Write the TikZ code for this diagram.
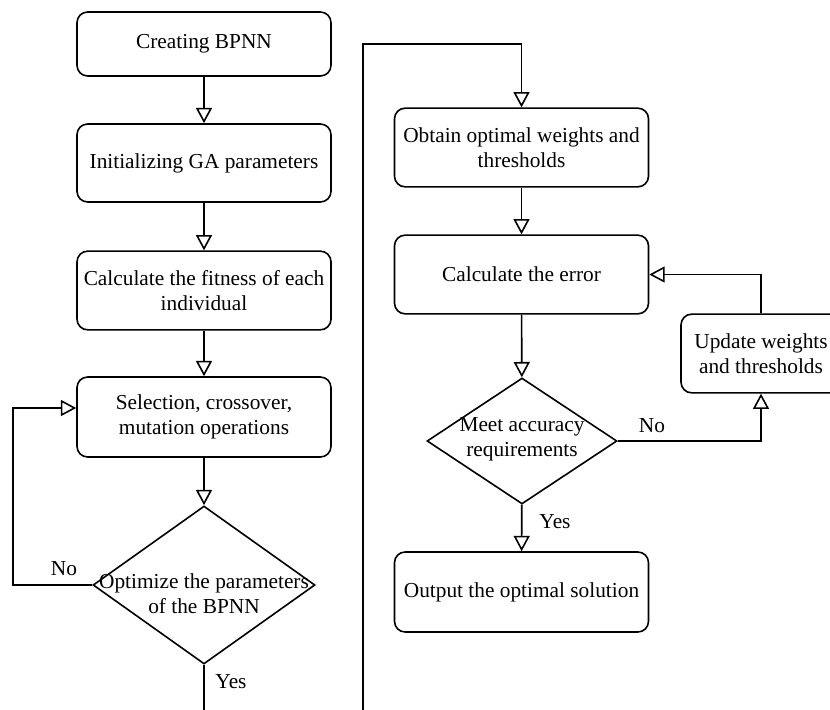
\documentclass[tikz,border=0pt]{standalone}
\usepackage{fontspec}
\setmainfont{Liberation Serif}
\usetikzlibrary{arrows.meta,shapes.geometric}
\begin{document}
\begin{tikzpicture}[x=0.75pt,y=-0.75pt,
  every node/.style={font=\fontsize{16}{18.5}\selectfont},
  box/.style={draw,line width=1.2pt,rounded corners=8pt,minimum width=190.5pt,
    minimum height=59pt,align=center,inner sep=0pt},
  dia/.style={draw,line width=1.2pt,diamond,inner sep=0pt},
  txt/.style={align=center,inner sep=0pt},
  arr/.style={line width=1.2pt,-{Triangle[open,length=11.5pt,width=12pt]}},
  conn/.style={line width=1.2pt}]
\useasboundingbox (0,0) rectangle (830,709);
\clip (0,0) rectangle (830,709);
% left column
\node[box,minimum height=48pt] (c1) at (204,44) {Creating BPNN};
\node[box,minimum height=58.5pt] (c2) at (204,163) {Initializing GA parameters};
\node[box] (c3) at (204,290.5) {Calculate the fitness of each\\individual};
\node[box,minimum height=60pt] (c4) at (204,417) {Selection, crossover,\\mutation operations};
\node[dia,minimum width=166.5pt,minimum height=118.5pt] (d1) at (204,585) {};
\node[txt] (d1t) at (204,594) {Optimize the parameters\\of the BPNN};
% right column
\node[box] (r1) at (521.5,147.5) {Obtain optimal weights and\\thresholds};
\node[box] (r2) at (521.5,274.5) {Calculate the error};
\node[dia,minimum width=142.5pt,minimum height=94.5pt] (d2) at (522,441) {};
\node[txt] (d2t) at (522,439) {Meet accuracy\\requirements};
\node[box,minimum width=120pt] (u) at (761,353.5) {Update weights\\and thresholds};
\node[box,minimum height=60pt] (r3) at (521.5,592) {Output the optimal solution};
% labels
\node[txt] (no1) at (64,569) {No};
\node[txt] (yes1) at (231,682) {Yes};
\node[txt] (no2) at (652,426) {No};
\node[txt] (yes2) at (555,522) {Yes};
% coordinates
\coordinate (a1) at (13,585);
\coordinate (b1) at (204,760);
\coordinate (b2) at (363,760);
\coordinate (b3) at (363,44);
\coordinate (e1) at (761,441);
% connectors
\draw[arr] (c1) -- (c2);
\draw[arr] (c2) -- (c3);
\draw[arr] (c3) -- (c4);
\draw[arr] (c4) -- (d1);
\draw[arr] (d1.west) -- (a1) |- ([yshift=6.75pt]c4.west);
\draw[arr] (d1.south) -- (b1) -- (b2) -- (b3) -| (r1.north);
\draw[arr] (r1) -- (r2);
\draw[arr] (r2) -- (d2);
\draw[arr] (d2) -- (r3);
\draw[arr] (d2.east) -- (e1) -- (u.south);
\draw[arr] (u.north) |- (r2.east);
\end{tikzpicture}
\end{document}
